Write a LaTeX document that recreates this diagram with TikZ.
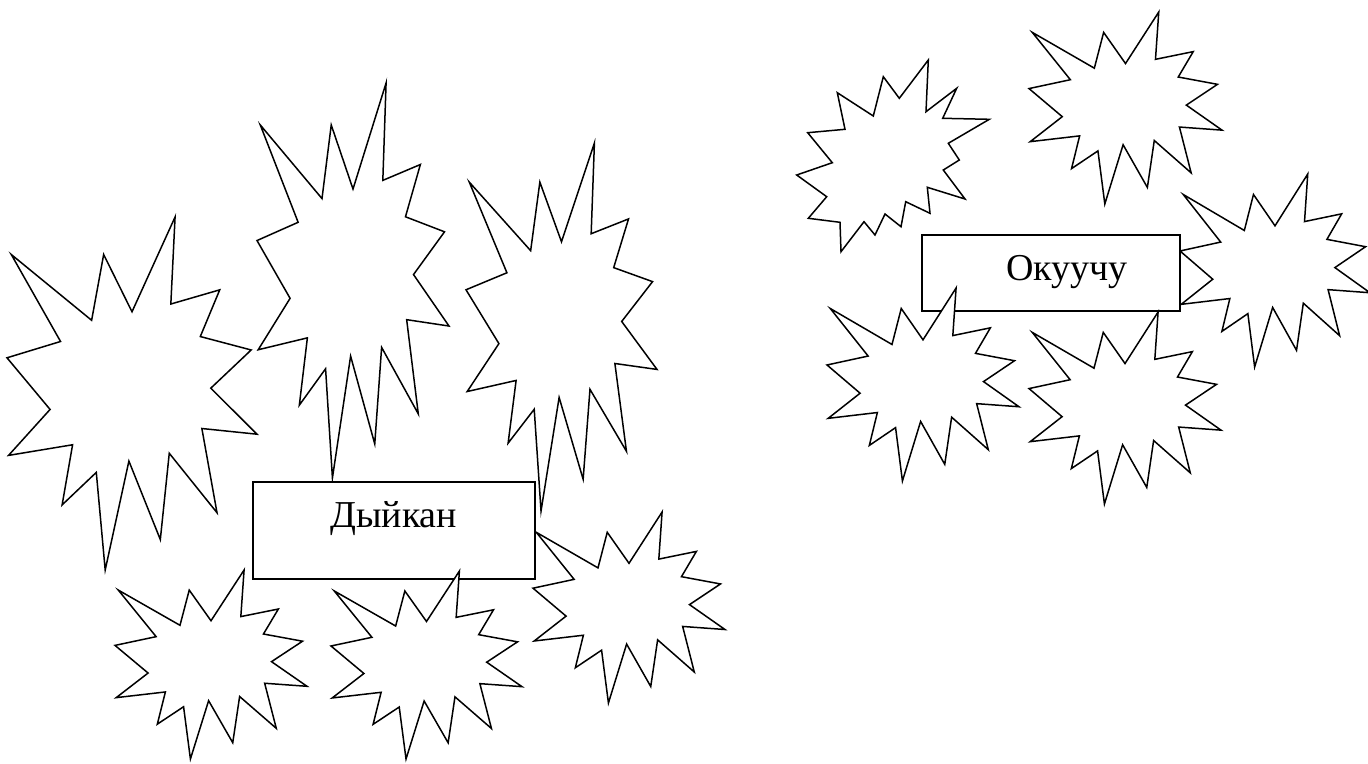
\documentclass[tikz,border=0pt]{standalone}
\usepackage{fontspec}
\setmainfont{Liberation Serif}
\usetikzlibrary{positioning}

\tikzset{
    seal/.style={draw=black, fill=white, line width=1.5pt},
    wordbox/.style={draw=black, fill=white, line width=1.5pt, inner sep=0pt, anchor=north west},
    word/.style={font=\fontsize{38}{44}\selectfont, inner sep=0pt, anchor=base}
}

\begin{document}
\begin{tikzpicture}[x=1pt, y=-1pt]
                \newcommand{\sealpath}{(108,58) -- (83.52,22.95) -- (73.12,63.2) -- (3.7,22.95) -- (46.27,76.17) -- (0,86.15) -- (37.22,117.75) -- (1.35,145.87) -- (56.67,139.37) -- (47.62,176.17) -- (77.15,156.27) -- (84.85,216) -- (105.32,149.35) -- (132.47,197.37) -- (140.2,144.57) -- (181.45,180.95) -- (168.37,129.42) -- (216,132.9) -- (176.07,104.75) -- (210.97,81.37) -- (167.02,73.15) -- (183.8,44.57) -- (141.55,53.25) -- (145.22,0) -- cycle}
                \newcommand{\drawseal}[4]{\path[seal, shift={(#1,#2)}, xscale=#3/216, yscale=#4/216] \sealpath;}

                \useasboundingbox (0,0) rectangle (1368,763);

                % Left group: bursts behind the box
                \foreach \px/\py/\pw/\ph in {7/217/250/353, 257/83/192/395, 466/143/191/368, 115/570/192/189, 533/512/192/191} {
                    \drawseal{\px}{\py}{\pw}{\ph}
                }
                \node[wordbox, minimum width=282pt, minimum height=97pt] (dyikan) at (252,481) {};
                \node[word] (dyikanlabel) at ([yshift=-46pt]dyikan.north) {Дыйкан};
                \drawseal{331}{571}{191}{188}

                % Right group
                \draw[seal] (928.3,60) -- (926,111.7) -- (956.7,88.3) -- (942.7,118.3) -- (989.3,119.3) -- (948.3,143.3) -- (959.3,160) -- (943.3,170) -- (965,199) -- (927.3,187.3) -- (930,213.3) -- (905.7,201.7) -- (901,226.7) -- (885,214) -- (875,235) -- (864,221.7) -- (841,251.7) -- (840,222.3) -- (808.3,218.3) -- (826.7,196.7) -- (796.7,175) -- (832.3,162.7) -- (807.7,132.7) -- (845,129.3) -- (837.3,92.7) -- (873.3,116) -- (883.3,76.7) -- (899.3,98.3) -- cycle;
                \foreach \px/\py/\pw/\ph in {1029/12/193/192, 1180/174/190/193} {
                    \drawseal{\px}{\py}{\pw}{\ph}
                }
                \node[wordbox, minimum width=258pt, minimum height=76pt] (okuuchu) at (921,234) {};
                \node[word] (okuuchulabel) at ([xshift=16pt, yshift=-46pt]okuuchu.north) {Окуучу};
                \foreach \px/\py/\pw/\ph in {827/288/192/193, 1029/312/192/192} {
                    \drawseal{\px}{\py}{\pw}{\ph}
                }
\end{tikzpicture}
\end{document}
